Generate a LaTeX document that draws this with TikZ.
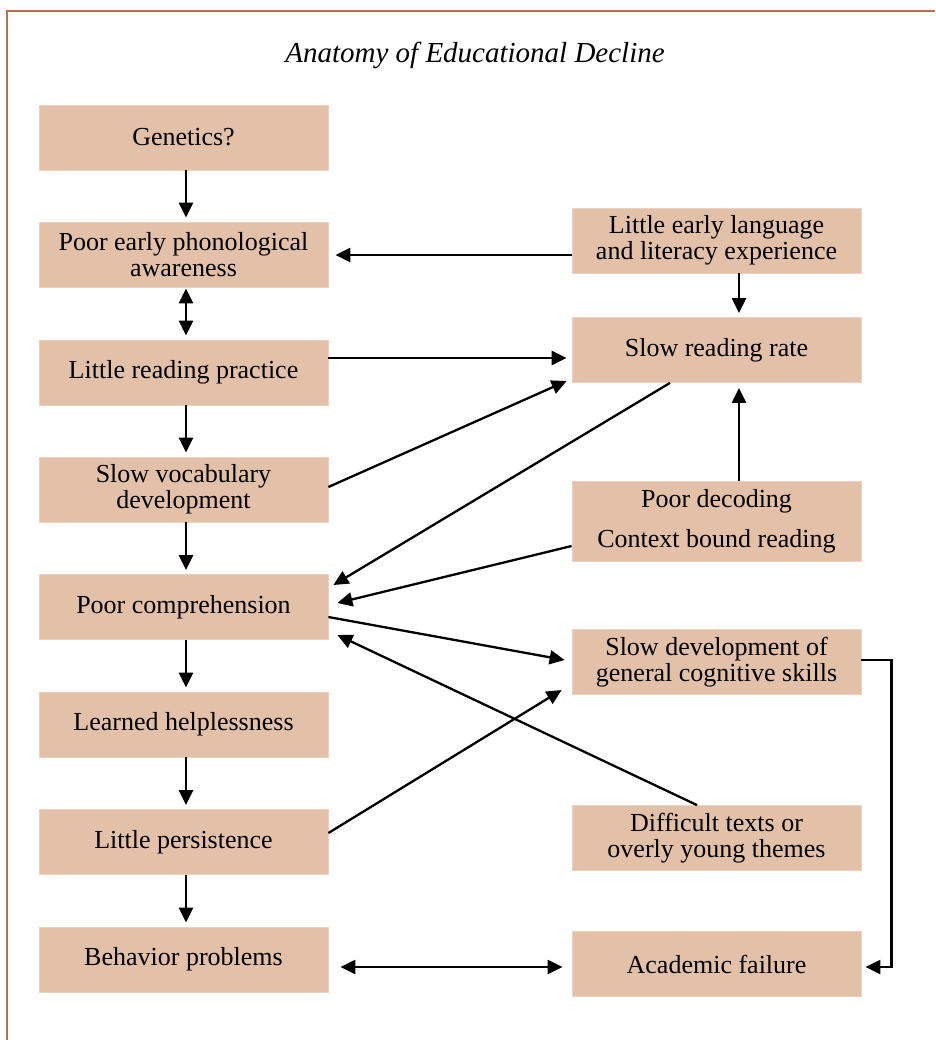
\documentclass[tikz,border=0pt]{standalone}
\usepackage{fontspec}
\setmainfont{Liberation Serif}
\usetikzlibrary{arrows.meta,calc}
\definecolor{boxfill}{HTML}{E3C0A8}
\definecolor{boxedge}{HTML}{EBD2C0}
\definecolor{framecol}{HTML}{B86E50}
\begin{document}
\begin{tikzpicture}[x=1pt,y=-1pt,
  box/.style={fill=boxfill, draw=boxedge, line width=0.8pt, minimum width=289pt, minimum height=65pt, inner sep=0pt, align=center, font=\fontsize{26}{26}\selectfont},
  arr/.style={line width=2.3pt, -{Triangle[length=15pt,width=14pt]}},
  darr/.style={line width=2.3pt, {Triangle[length=15pt,width=14pt]}-{Triangle[length=15pt,width=14pt]}}]
\useasboundingbox (0,0) rectangle (935,1040);
\draw[framecol, line width=2pt] (7,1040) -- (7,11) -- (935,11);
\node (title) at (475,55) {\fontsize{29}{29}\selectfont\itshape Anatomy of Educational Decline};
% left column
\node[box] (gen) at (183.5,137.5) {Genetics?};
\node[box] (phon) at (183.5,254.5) {Poor early phonological\\awareness};
\node[box] (prac) at (183.5,372.5) {Little reading practice};
\node[box] (vocab) at (183.5,489.5) {Slow vocabulary\\development};
\node[box] (comp) at (183.5,607) {Poor comprehension};
\node[box] (help) at (183.5,724.5) {Learned helplessness};
\node[box] (pers) at (183.5,842) {Little persistence};
\node[box] (behav) at (183.5,959.5) {Behavior problems};
% right column
\node[box] (lang) at (716.5,240.5) {Little early language\\and literacy experience};
\node[box] (rate) at (716.5,350) {Slow reading rate};
\node[box, minimum height=80pt, font=\fontsize{26}{40}\selectfont] (dec) at (716.5,521) {Poor decoding\\Context bound reading};
\node[box] (cog) at (716.5,662) {Slow development of\\general cognitive skills};
\node[box] (diff) at (716.5,838) {Difficult texts or\\overly young themes};
\node[box] (acad) at (716.5,964) {Academic failure};
% vertical chain
\draw[arr] ($(gen.south)+(2.5,0)$) -- ($(phon.north)+(2.5,-4)$);
\draw[darr] ($(phon.south)+(2.5,1)$) -- ($(prac.north)+(2.5,-4)$);
\draw[arr] ($(prac.south)+(2.5,0)$) -- ($(vocab.north)+(2.5,-4)$);
\draw[arr] ($(vocab.south)+(2.5,0)$) -- ($(comp.north)+(2.5,-4)$);
\draw[arr] ($(comp.south)+(2.5,0)$) -- ($(help.north)+(2.5,-4)$);
\draw[arr] ($(help.south)+(2.5,0)$) -- ($(pers.north)+(2.5,-4)$);
\draw[arr] ($(pers.south)+(2.5,0)$) -- ($(behav.north)+(2.5,-4)$);
% cross links
\draw[arr] ($(lang.west)+(0,14.5)$) -- ($(phon.east)+(7,0.5)$);
\draw[arr] ($(lang.south)+(22.5,0)$) -- ($(rate.north)+(22.5,-4)$);
\draw[arr] ($(prac.east)+(0,-14.5)$) -- ($(rate.west)+(-5,8)$);
\draw[arr] ($(vocab.east)+(0,-2.5)$) -- ($(rate.west)+(-5,31)$);
\draw[arr] ($(rate.south)+(-46.5,0)$) -- ($(comp.east)+(5,-22)$);
\draw[arr] ($(dec.north)+(22.5,0)$) -- ($(rate.south)+(22.5,5)$);
\draw[arr] ($(dec.west)+(0,25)$) -- ($(comp.east)+(9,-4)$);
\draw[arr] ($(comp.east)+(0,10)$) -- ($(cog.west)+(-7,-2)$);
\draw[arr] ($(pers.east)+(0,-9)$) -- ($(cog.west)+(-10,28)$);
\draw[arr] ($(diff.north)+(-19.5,0)$) -- ($(comp.east)+(9,28)$);
\draw[arr] ($(cog.east)+(0,-2)$) -- ++(30,0) |- ($(acad.east)+(4,3)$);
\draw[darr] ($(behav.east)+(12,7.5)$) -- ($(acad.west)+(-9,3)$);
\end{tikzpicture}
\end{document}
